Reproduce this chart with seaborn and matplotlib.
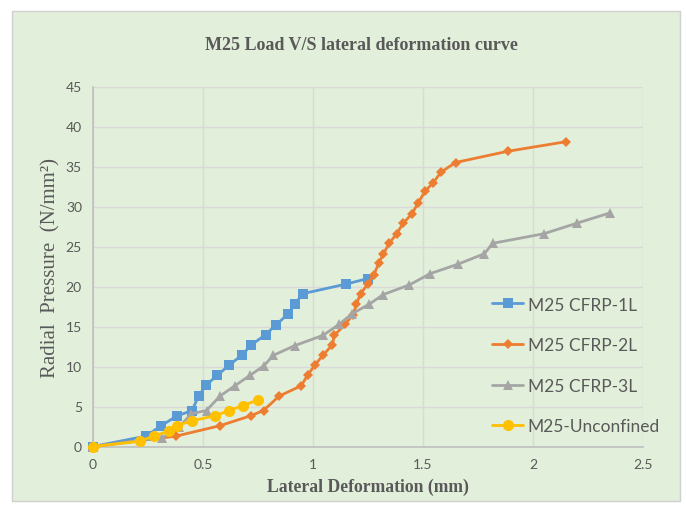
import matplotlib
matplotlib.use("Agg")
import matplotlib.pyplot as plt
import seaborn as sns
import pandas as pd
from matplotlib.patches import Rectangle

# ---- data ----
cfrp1_x = [0, 0.24, 0.31, 0.38, 0.45, 0.48, 0.515, 0.565, 0.62, 0.676, 0.72, 0.785, 0.832, 0.888, 0.918, 0.953, 1.15, 1.25]
cfrp1_y = [0, 1.3, 2.6, 3.8, 4.5, 6.3, 7.7, 8.9, 10.2, 11.4, 12.7, 14.0, 15.2, 16.6, 17.8, 19.1, 20.3, 21.0]

cfrp2_x = [0, 0.378, 0.577, 0.718, 0.775, 0.846, 0.947, 0.975, 1.009, 1.045, 1.088, 1.097, 1.147, 1.183,
           1.197, 1.216, 1.249, 1.277, 1.299, 1.32, 1.347, 1.38, 1.41, 1.45, 1.479, 1.509, 1.547, 1.582,
           1.648, 1.885, 2.15]
cfrp2_y = [0, 1.3, 2.6, 3.85, 4.5, 6.3, 7.6, 8.9, 10.2, 11.4, 12.7, 13.9, 15.3, 16.5, 17.8, 19.1, 20.3,
           21.5, 22.9, 24.1, 25.4, 26.6, 27.9, 29.1, 30.5, 31.9, 33.0, 34.3, 35.5, 36.9, 38.1]

cfrp3_x = [0, 0.315, 0.39, 0.447, 0.516, 0.577, 0.645, 0.714, 0.777, 0.82, 0.916, 1.046, 1.12, 1.178,
           1.256, 1.32, 1.438, 1.532, 1.66, 1.779, 1.817, 2.05, 2.198, 2.35]
cfrp3_y = [0, 1.1, 2.4, 4.1, 4.5, 6.3, 7.6, 8.9, 10.1, 11.4, 12.6, 13.9, 15.3, 16.6, 17.8, 19.0, 20.2,
           21.6, 22.8, 24.1, 25.4, 26.6, 27.9, 29.2]

unconf_x = [0, 0.214, 0.277, 0.347, 0.38, 0.449, 0.555, 0.62, 0.68, 0.748]
unconf_y = [0, 0.65, 1.35, 1.9, 2.6, 3.2, 3.85, 4.5, 5.1, 5.8]

series_names = ["M25 CFRP-1L", "M25 CFRP-2L", "M25 CFRP-3L", "M25-Unconfined"]
x_ticks = [0, 0.5, 1, 1.5, 2, 2.5]
x_tick_labels = ["0", "0.5", "1", "1.5", "2", "2.5"]
y_ticks = [0, 5, 10, 15, 20, 25, 30, 35, 40, 45]

colors = ["#5B9BD5", "#ED7D31", "#A5A5A5", "#FFC000"]
markers = ["s", "D", "^", "o"]
msizes = [7.5, 5.5, 7.5, 8]
BG = "#E2EFDA"
TXT = "#595959"

sns.set_theme(style="white")
plt.rcParams["font.family"] = ["Lato", "DejaVu Sans"]

fig = plt.figure(figsize=(6.86, 5.06), dpi=100)
fig.patch.set_facecolor("white")
fig.patches.append(Rectangle((12 / 686, 4 / 506), 668 / 686, 490 / 506, transform=fig.transFigure,
                             facecolor=BG, edgecolor="#D0D0D0", linewidth=1.0, zorder=-10))

ax = fig.add_axes([93 / 686, (506 - 447.5) / 506, 550 / 686, 360 / 506])
ax.set_facecolor(BG)

data = [(cfrp1_x, cfrp1_y), (cfrp2_x, cfrp2_y), (cfrp3_x, cfrp3_y), (unconf_x, unconf_y)]
for i, ((xs, ys), name) in enumerate(zip(data, series_names)):
    df = pd.DataFrame({"x": xs, "y": ys})
    sns.lineplot(data=df, x="x", y="y", sort=False, ax=ax, color=colors[i], marker=markers[i],
                 markersize=msizes[i], markeredgewidth=0, linewidth=2.0, label=name,
                 clip_on=False, zorder=3 + i)

ax.set_xlim(0, 2.5)
ax.set_ylim(0, 45)
ax.set_xticks(x_ticks)
ax.set_xticklabels(x_tick_labels)
ax.set_yticks(y_ticks)
ax.grid(True, color="#D9D9D9", linewidth=1.0)
ax.set_axisbelow(True)
for s in ["top", "right"]:
    ax.spines[s].set_visible(False)
for s in ["left", "bottom"]:
    ax.spines[s].set_color("#BFBFBF")
    ax.spines[s].set_linewidth(1.2)
ax.tick_params(axis="both", colors=TXT, labelsize=10, length=0, pad=8)

ax.set_xlabel("Lateral Deformation (mm)", family="Liberation Serif", fontweight="bold",
              fontsize=12.7, color=TXT, labelpad=6)
ax.set_ylabel("Radial  Pressure  (N/mm²)", family="Liberation Serif", fontsize=15,
              color=TXT, labelpad=4)

fig.text(361 / 686, 1 - 45 / 506, "M25 Load V/S lateral deformation curve", family="Liberation Serif",
         fontweight="bold", fontsize=13, color=TXT, ha="center", va="center")

leg = ax.legend(loc="upper left", bbox_to_anchor=(0.697, 0.46), frameon=False, fontsize=12.5,
                labelspacing=1.42, handlelength=1.8, handletextpad=0.25, labelcolor=TXT)

fig.savefig("out.png", dpi=100, facecolor="white")
